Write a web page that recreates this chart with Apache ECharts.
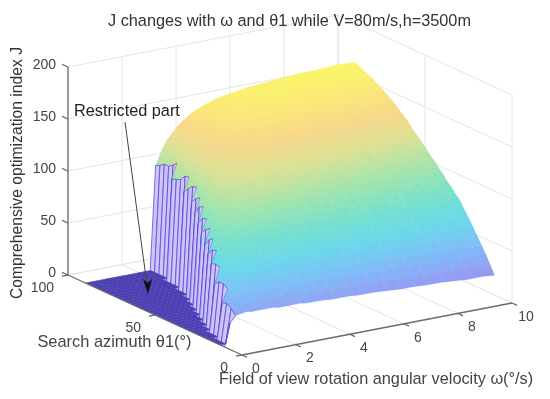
<!DOCTYPE html>
<html><head><meta charset="utf-8"><style>html,body{margin:0;padding:0;background:#fff}#c{width:550px;height:399px}</style>
<script src="https://cdn.jsdelivr.net/npm/echarts@6/dist/echarts.min.js"></script></head><body><div id="c"></div>
<script>
const chartTitle='J changes with ω and θ1 while V=80m/s,h=3500m';
const omegaTicks=[0,2,4,6,8,10];
const thetaTicks=[0,50,100];
const jTicks=[0,50,100,150,200];
const omegaValues=[0,.2,.4,.6,.8,1,1.2,1.4,1.6,1.8,2,2.2,2.4,2.6,2.8,3,3.5,4,4.5,5,5.5,6,6.5,7,7.5,8,8.5,9,9.5,10];
const thetaValues=[10,12.5,15,17.5,20,22.5,25,27.5,30,32.5,35,37.5,40,42.5,45,47.5,50,52.5,55,57.5,60,62.5,65,67.5,70,72.5,75,77.5,80,82.5,85,87.5,90];
const jValues=[
[0,22,28,29,30,29,29,29,29,29,28,28,28,28,28,27,27,26,26,25,25,24,23,23,22,22,21,20,20,19],
[0,0,33,36,37,37,37,36,36,36,36,36,36,35,35,35,34,34,33,33,32,32,31,31,30,29,29,28,28,27],
[0,0,36,42,44,44,44,44,44,44,44,43,43,43,43,43,42,42,41,41,40,40,39,38,38,37,37,36,36,35],
[0,0,35,47,50,51,51,51,51,51,51,51,51,50,50,50,50,49,48,48,47,47,46,46,45,44,44,43,43,42],
[0,0,0,50,55,57,58,58,58,59,58,58,58,58,58,57,57,56,56,55,55,54,53,53,52,52,51,50,50,49],
[0,0,0,50,59,63,64,65,65,65,65,65,65,65,65,64,64,63,63,62,62,61,60,60,59,59,58,57,57,56],
[0,0,0,46,61,67,70,71,72,72,72,72,72,72,72,71,71,70,70,69,69,68,67,67,66,66,65,64,64,63],
[0,0,0,0,62,71,75,77,78,78,78,79,79,79,78,78,78,77,76,76,75,74,74,73,72,72,71,70,70,69],
[0,0,0,0,61,72,79,81,83,84,84,85,85,85,85,85,85,84,83,83,82,81,81,80,80,79,78,77,77,76],
[0,0,0,0,0,71,80,85,87,89,90,90,91,91,91,91,90,90,89,88,87,87,86,85,84,83,83,82,81,80],
[0,0,0,0,0,65,79,86,90,93,95,95,96,96,97,96,96,96,95,94,93,92,91,91,90,89,88,87,86,85],
[0,0,0,0,0,0,76,86,92,95,97,99,99,100,100,101,101,100,100,99,98,97,96,95,94,93,92,91,90,89],
[0,0,0,0,0,0,69,84,91,97,100,102,104,105,105,106,106,105,105,104,103,102,101,100,99,98,97,96,95,94],
[0,0,0,0,0,0,0,81,91,97,101,104,106,108,109,109,110,110,109,109,108,107,106,105,104,102,101,100,99,98],
[0,0,0,0,0,0,0,76,88,97,102,106,108,111,113,113,114,115,114,113,113,112,111,110,109,107,106,105,104,103],
[0,0,0,0,0,0,0,0,87,97,103,108,111,114,115,117,118,118,118,117,117,116,115,114,113,111,110,109,108,107],
[0,0,0,0,0,0,0,0,80,95,103,109,113,116,118,119,121,122,121,121,121,120,119,118,117,116,115,114,113,112],
[0,0,0,0,0,0,0,0,0,93,102,108,113,116,119,120,124,124,124,124,124,123,123,122,121,120,119,118,117,116],
[0,0,0,0,0,0,0,0,0,85,99,107,113,117,120,122,125,127,127,128,127,127,127,126,125,124,123,122,121,120],
[0,0,0,0,0,0,0,0,0,0,96,106,111,117,121,123,127,130,131,131,131,130,130,130,129,128,127,126,125,124],
[0,0,0,0,0,0,0,0,0,0,91,104,112,116,121,124,129,133,133,134,134,134,134,134,133,132,132,131,130,129],
[0,0,0,0,0,0,0,0,0,0,0,103,112,116,122,126,131,134,136,137,137,137,137,137,137,136,135,135,134,133],
[0,0,0,0,0,0,0,0,0,0,0,99,109,116,121,126,132,136,138,139,139,140,140,140,140,139,138,137,137,136],
[0,0,0,0,0,0,0,0,0,0,0,94,107,115,120,126,133,138,141,142,143,143,143,143,143,142,142,141,141,140],
[0,0,0,0,0,0,0,0,0,0,0,0,106,115,120,126,135,140,143,144,145,146,146,146,146,145,145,144,144,143],
[0,0,0,0,0,0,0,0,0,0,0,0,101,114,121,126,136,141,144,147,147,147,148,148,148,148,147,147,147,146],
[0,0,0,0,0,0,0,0,0,0,0,0,99,113,120,126,137,143,146,148,149,150,150,150,150,150,150,150,150,149],
[0,0,0,0,0,0,0,0,0,0,0,0,98,112,120,126,137,143,148,150,152,152,152,152,152,152,152,152,152,151],
[0,0,0,0,0,0,0,0,0,0,0,0,0,108,117,125,137,144,149,152,153,154,155,155,155,155,155,155,155,154],
[0,0,0,0,0,0,0,0,0,0,0,0,0,105,116,124,137,144,149,152,154,155,156,156,157,157,157,157,157,156],
[0,0,0,0,0,0,0,0,0,0,0,0,0,105,116,125,137,145,150,153,155,157,157,158,158,159,159,159,159,158],
[0,0,0,0,0,0,0,0,0,0,0,0,0,102,115,123,137,145,150,153,155,157,158,159,160,160,161,161,161,160],
[0,0,0,0,0,0,0,0,0,0,0,0,0,100,112,122,136,145,150,154,156,158,159,160,161,162,162,163,163,162]
];

// view: orthographic projection of (omega, theta, J) on the page plane
const P=(w,t,j)=>[68+27*w+1.74*(100-t),275+0.8*(100-t)-5.2*w-1.04*j];
const stops=[[0,[59,47,176]],[20,[100,100,235]],[40,[70,150,245]],[60,[34,195,228]],[80,[50,210,180]],[100,[120,215,130]],[120,[205,210,95]],[135,[245,195,80]],[150,[248,222,50]],[165,[248,245,25]]];
function cm(j){for(let i=1;i<stops.length;i++){if(j<=stops[i][0]){const a=stops[i-1],b=stops[i],f=(j-a[0])/(b[0]-a[0]);return a[1].map((v,k)=>v+(b[1][k]-v)*f);}}return stops[stops.length-1][1];}
const rgb=(c,m,al)=>`rgba(${c.map(v=>Math.round(v+(255-v)*m)).join(',')},${al})`;

const surf=[];
for(let r=thetaValues.length-2;r>=0;r--){
  for(let c=omegaValues.length-2;c>=0;c--){
    const cs=[[c,r+1],[c+1,r+1],[c+1,r],[c,r]].map(([a,b])=>({w:omegaValues[a],t:thetaValues[b],j:jValues[b][a]}));
    const js=cs.map(o=>o.j);
    surf.push({value:[].concat(...cs.map(o=>P(o.w,o.t,o.j))),js,jmin:Math.min(...js),jmax:Math.max(...js)});
  }
}
const segs=(list)=>list.map(s=>[...s[0],...s[1]]);
const wall=[];
jTicks.forEach(j=>{wall.push([P(0,100,j),P(10,100,j)]);wall.push([P(10,100,j),P(10,0,j)]);});
omegaTicks.forEach(w=>{wall.push([P(w,100,0),P(w,100,200)]);wall.push([P(w,100,0),P(w,0,0)]);});
thetaTicks.forEach(t=>{wall.push([P(10,t,0),P(10,t,200)]);wall.push([P(0,t,0),P(10,t,0)]);});
const axes=[[P(0,100,0),P(0,100,200)],[P(0,100,0),P(0,0,0)],[P(0,0,0),P(10,0,0)]];
jTicks.forEach(j=>{const a=P(0,100,j);axes.push([a,[a[0]-6,a[1]-2.7]]);});
thetaTicks.forEach(t=>{const a=P(0,t,0);axes.push([a,[a[0]-6,a[1]+1.1]]);});
omegaTicks.forEach(w=>{const a=P(w,0,0);axes.push([a,[a[0]+5,a[1]+2.4]]);});

const labels=[];
jTicks.forEach(j=>{const a=P(0,100,j);labels.push({value:[56,a[1]-2],t:String(j),al:'right'});});
thetaTicks.forEach(t=>{const a=P(0,t,0);labels.push({value:[a[0]-14,a[1]+13],t:String(t),al:'right'});});
omegaTicks.forEach(w=>{const a=P(w,0,0);labels.push({value:[a[0]+14,a[1]+14],t:String(w),al:'center'});});

const lineSeries=(data,stroke,width,z)=>({type:'custom',coordinateSystem:'cartesian2d',silent:true,z,clip:false,data:segs(data),
  renderItem:(p,api)=>{const a=api.coord([api.value(0),api.value(1)]),b=api.coord([api.value(2),api.value(3)]);
   return {type:'line',shape:{x1:a[0],y1:a[1],x2:b[0],y2:b[1]},style:{stroke,lineWidth:width,fill:null}};}});

const option={animation:false,backgroundColor:'#fff',
 title:{text:chartTitle,left:103,top:9,textStyle:{fontFamily:'Liberation Sans',fontSize:16.3,fontWeight:'normal',color:'#333'}},
 grid:{left:0,right:0,top:0,bottom:0},
 xAxis:{type:'value',min:0,max:550,show:false},
 yAxis:{type:'value',min:0,max:399,inverse:true,show:false},
 series:[
  lineSeries(wall,'#e6e6e6',1,1),
  {type:'custom',silent:true,z:2,clip:false,progressive:0,data:surf,
   renderItem:(p,api)=>{const d=surf[p.dataIndex];const pts=[];for(let i=0;i<4;i++)pts.push(api.coord([d.value[2*i],d.value[2*i+1]]));
     let fill,stroke,lw=.5;
     if(d.jmax===0){fill='#4a3eb0';stroke='#4a3eb0';}
     else if(d.jmin===0){fill='rgba(196,186,248,.85)';stroke='rgba(92,74,210,.85)';lw=.9;}
     else{
       const hi=d.js.indexOf(d.jmax),lo=d.js.indexOf(d.jmin);
       fill=new echarts.graphic.LinearGradient(pts[lo][0],pts[lo][1],pts[hi][0],pts[hi][1],[{offset:0,color:rgb(cm(d.jmin),.33,1)},{offset:1,color:rgb(cm(d.jmax),.33,1)}],true);
       stroke=rgb(cm((d.jmin+d.jmax)/2),.05,.3);
     }
     return {type:'polygon',shape:{points:pts},style:{fill,stroke,lineWidth:lw}};}},
  lineSeries(axes,'#6c6c6c',1.3,3),
  {type:'custom',silent:true,z:4,clip:false,data:labels,
   renderItem:(p,api)=>{const d=labels[p.dataIndex];const a=api.coord(d.value);
     return {type:'text',x:a[0],y:a[1],style:{text:d.t,fontFamily:'Liberation Sans',fontSize:14,fill:'#444',align:d.al,verticalAlign:'middle'}};}}
 ],
 graphic:[
  {type:'text',x:18,y:173,rotation:Math.PI/2,originX:0,originY:0,z:10,style:{text:'Comprehensive optimization index J',fontFamily:'Liberation Sans',fontSize:15.7,fill:'#333',align:'center',verticalAlign:'middle'}},
  {type:'text',x:114.5,y:342,z:10,style:{text:'Search azimuth θ1(°)',fontFamily:'Liberation Sans',fontSize:16.4,fill:'#444',align:'center',verticalAlign:'middle'}},
  {type:'text',x:376,y:380,z:10,style:{text:'Field of view rotation angular velocity ω(°/s)',fontFamily:'Liberation Sans',fontSize:16.3,fill:'#444',align:'center',verticalAlign:'middle'}},
  {type:'text',x:74,y:112,z:10,style:{text:'Restricted part',fontFamily:'Liberation Sans',fontSize:16.3,fill:'#222',verticalAlign:'middle'}},
  {type:'line',z:10,shape:{x1:125,y1:122,x2:147,y2:285},style:{stroke:'#444',lineWidth:1}},
  {type:'polygon',z:10,shape:{points:[[148,294],[143,279],[147.5,283],[152,279]]},style:{fill:'#111'}}
 ]};
const chart=echarts.init(document.getElementById('c'),null,{renderer:'canvas'});
chart.setOption(option);
</script></body></html>
